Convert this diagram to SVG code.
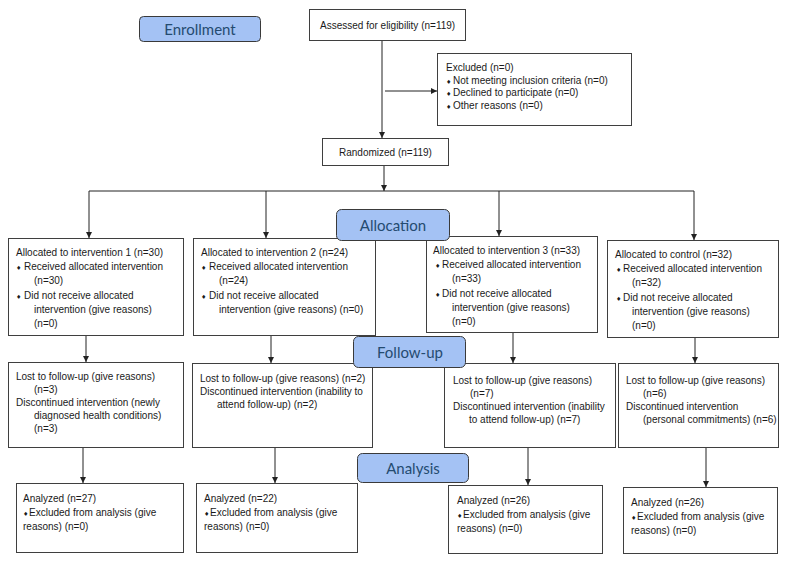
<svg xmlns="http://www.w3.org/2000/svg" width="790" height="562" viewBox="0 0 790 562">
<defs>
<marker id="ah" viewBox="0 0 10 10" refX="10" refY="5" markerWidth="6" markerHeight="6" orient="auto" markerUnits="userSpaceOnUse">
<path d="M0,0 L10,5 L0,10 z" fill="#222"/>
</marker>
<style>
.box{fill:#fff;stroke:#3f3f3f;stroke-width:1}
.lab{fill:#a4c2f4;stroke:#3a3a3a;stroke-width:1}
.lt{font-family:Lato,"Open Sans",sans-serif;font-size:15px;fill:#244b70;text-anchor:middle}
.t{font-family:"Liberation Sans",Arial,sans-serif;font-size:10px;fill:#1a1a1a}
.b{font-family:"DejaVu Sans",sans-serif;font-size:6px}
.c{fill:none;stroke:#222;stroke-width:1}
.ca{fill:none;stroke:#222;stroke-width:1;marker-end:url(#ah)}
</style>
</defs>
<rect width="790" height="562" fill="#fff"/>

<g id="connectors">
<line class="ca" x1="382" y1="41" x2="382" y2="138"/>
<line class="ca" x1="385" y1="91" x2="437" y2="91"/>
<line class="ca" x1="384" y1="165" x2="384" y2="191"/>
<line class="c" x1="89" y1="191" x2="694" y2="191"/>
<line class="ca" x1="89" y1="191" x2="89" y2="238"/>
<line class="ca" x1="266" y1="191" x2="266" y2="238"/>
<line class="ca" x1="499" y1="191" x2="499" y2="236"/>
<line class="ca" x1="694" y1="191" x2="694" y2="240"/>
<line class="ca" x1="86" y1="335" x2="86" y2="362"/>
<line class="ca" x1="271" y1="335" x2="271" y2="363"/>
<line class="ca" x1="513" y1="332" x2="513" y2="363"/>
<line class="ca" x1="695" y1="337" x2="695" y2="363"/>
<line class="ca" x1="83" y1="447" x2="83" y2="483"/>
<line class="ca" x1="275" y1="447" x2="275" y2="483"/>
<line class="ca" x1="528" y1="447" x2="528" y2="485"/>
<line class="ca" x1="706" y1="447" x2="706" y2="487"/>
</g>

<g id="assessed">
<rect class="box" x="309.5" y="9.5" width="156" height="31"/>
<text class="t" x="320" y="28.5">Assessed for eligibility (n=119)</text>
</g>

<g id="excluded">
<rect class="box" x="437.5" y="53.5" width="194" height="72"/>
<text class="t" x="446" y="70.5">Excluded  (n=0)</text>
<text class="t" x="446" y="83.5"><tspan class="b">♦</tspan><tspan x="453">Not meeting inclusion criteria (n=0)</tspan></text>
<text class="t" x="446" y="96"><tspan class="b">♦</tspan><tspan x="453">Declined to participate (n=0)</tspan></text>
<text class="t" x="446" y="108.5"><tspan class="b">♦</tspan><tspan x="453">Other reasons (n=0)</tspan></text>
</g>

<g id="randomized">
<rect class="box" x="322.5" y="138.5" width="126" height="27"/>
<text class="t" x="339" y="155.5">Randomized (n=119)</text>
</g>

<g id="alloc1">
<rect class="box" x="8.5" y="238.5" width="175" height="97"/>
<text class="t" x="16" y="255.5">Allocated to intervention 1 (n=30)</text>
<text class="t" x="16" y="269.5"><tspan class="b">♦</tspan><tspan x="24">Received allocated intervention</tspan></text>
<text class="t" x="34" y="284">(n=30)</text>
<text class="t" x="16" y="298.5"><tspan class="b">♦</tspan><tspan x="24">Did not receive allocated</tspan></text>
<text class="t" x="34" y="312.5">intervention (give reasons)</text>
<text class="t" x="34" y="326.5">(n=0)</text>
</g>

<g id="alloc2">
<rect class="box" x="193.5" y="238.5" width="182" height="97"/>
<text class="t" x="201" y="255.5">Allocated to intervention 2 (n=24)</text>
<text class="t" x="201" y="269.5"><tspan class="b">♦</tspan><tspan x="209">Received allocated intervention</tspan></text>
<text class="t" x="219" y="284">(n=24)</text>
<text class="t" x="201" y="298.5"><tspan class="b">♦</tspan><tspan x="209">Did not receive allocated</tspan></text>
<text class="t" x="219" y="312.5">intervention (give reasons) (n=0)</text>
</g>

<g id="alloc3">
<rect class="box" x="426.5" y="236.5" width="171" height="96"/>
<text class="t" x="433" y="253.5">Allocated to intervention 3 (n=33)</text>
<text class="t" x="435" y="267.5"><tspan class="b">♦</tspan><tspan x="442">Received allocated intervention</tspan></text>
<text class="t" x="452" y="282">(n=33)</text>
<text class="t" x="435" y="296.5"><tspan class="b">♦</tspan><tspan x="442">Did not receive allocated</tspan></text>
<text class="t" x="452" y="310.5">intervention (give reasons)</text>
<text class="t" x="452" y="324.5">(n=0)</text>
</g>

<g id="control">
<rect class="box" x="607.5" y="240.5" width="171" height="97"/>
<text class="t" x="615" y="257.5">Allocated to control (n=32)</text>
<text class="t" x="616" y="271.5"><tspan class="b">♦</tspan><tspan x="623">Received allocated intervention</tspan></text>
<text class="t" x="632" y="286">(n=32)</text>
<text class="t" x="616" y="300.5"><tspan class="b">♦</tspan><tspan x="623">Did not receive allocated</tspan></text>
<text class="t" x="632" y="314.5">intervention (give reasons)</text>
<text class="t" x="632" y="328.5">(n=0)</text>
</g>

<g id="follow1">
<rect class="box" x="8.5" y="362.5" width="175" height="85"/>
<text class="t" x="16" y="379.5">Lost to follow-up (give reasons)</text>
<text class="t" x="34" y="392.5">(n=3)</text>
<text class="t" x="16" y="405.5">Discontinued intervention (newly</text>
<text class="t" x="34" y="418.5">diagnosed health conditions)</text>
<text class="t" x="34" y="431.5">(n=3)</text>
</g>

<g id="follow2">
<rect class="box" x="192.5" y="363.5" width="180" height="84"/>
<text class="t" x="200" y="381.5">Lost to follow-up (give reasons) (n=2)</text>
<text class="t" x="200" y="394.5">Discontinued intervention (inability to</text>
<text class="t" x="217" y="407.5">attend follow-up) (n=2)</text>
</g>

<g id="follow3">
<rect class="box" x="444.5" y="363.5" width="171" height="84"/>
<text class="t" x="453" y="383.5">Lost to follow-up (give reasons)</text>
<text class="t" x="470" y="396.5">(n=7)</text>
<text class="t" x="453" y="409.5">Discontinued intervention (inability</text>
<text class="t" x="469" y="423">to attend follow-up) (n=7)</text>
</g>

<g id="follow4">
<rect class="box" x="618.5" y="363.5" width="160" height="84"/>
<text class="t" x="626" y="383.5">Lost to follow-up (give reasons)</text>
<text class="t" x="643" y="396.5">(n=6)</text>
<text class="t" x="626" y="409.5">Discontinued intervention</text>
<text class="t" x="643" y="423">(personal commitments) (n=6)</text>
</g>

<g id="analysis1">
<rect class="box" x="16.5" y="483.5" width="167" height="69"/>
<text class="t" x="23" y="501.5">Analyzed (n=27)</text>
<text class="t" x="23" y="516"><tspan class="b">♦</tspan><tspan x="29">Excluded from analysis (give</tspan></text>
<text class="t" x="23" y="529.5">reasons) (n=0)</text>
</g>

<g id="analysis2">
<rect class="box" x="196.5" y="483.5" width="161" height="69"/>
<text class="t" x="204" y="501.5">Analyzed (n=22)</text>
<text class="t" x="204" y="516"><tspan class="b">♦</tspan><tspan x="210">Excluded from analysis (give</tspan></text>
<text class="t" x="204" y="529.5">reasons) (n=0)</text>
</g>

<g id="analysis3">
<rect class="box" x="448.5" y="485.5" width="154" height="68"/>
<text class="t" x="457" y="503.5">Analyzed (n=26)</text>
<text class="t" x="457" y="518"><tspan class="b">♦</tspan><tspan x="463">Excluded from analysis (give</tspan></text>
<text class="t" x="457" y="531.5">reasons) (n=0)</text>
</g>

<g id="analysis4">
<rect class="box" x="623.5" y="487.5" width="154" height="66"/>
<text class="t" x="631" y="505.5">Analyzed (n=26)</text>
<text class="t" x="631" y="520"><tspan class="b">♦</tspan><tspan x="637">Excluded from analysis (give</tspan></text>
<text class="t" x="631" y="533.5">reasons) (n=0)</text>
</g>

<g id="label-enrollment">
<rect class="lab" x="139.5" y="16.5" width="121" height="25" rx="4"/>
<text class="lt" x="200" y="34.5">Enrollment</text>
</g>

<g id="label-allocation">
<rect class="lab" x="336.5" y="209.5" width="113" height="31" rx="5"/>
<text class="lt" x="393" y="230.5">Allocation</text>
</g>

<g id="label-followup">
<rect class="lab" x="353.5" y="336.5" width="112" height="31" rx="5"/>
<text class="lt" x="410" y="357.5">Follow-up</text>
</g>

<g id="label-analysis">
<rect class="lab" x="357.5" y="453.5" width="111" height="29" rx="5"/>
<text class="lt" x="413" y="473.5">Analysis</text>
</g>
</svg>
